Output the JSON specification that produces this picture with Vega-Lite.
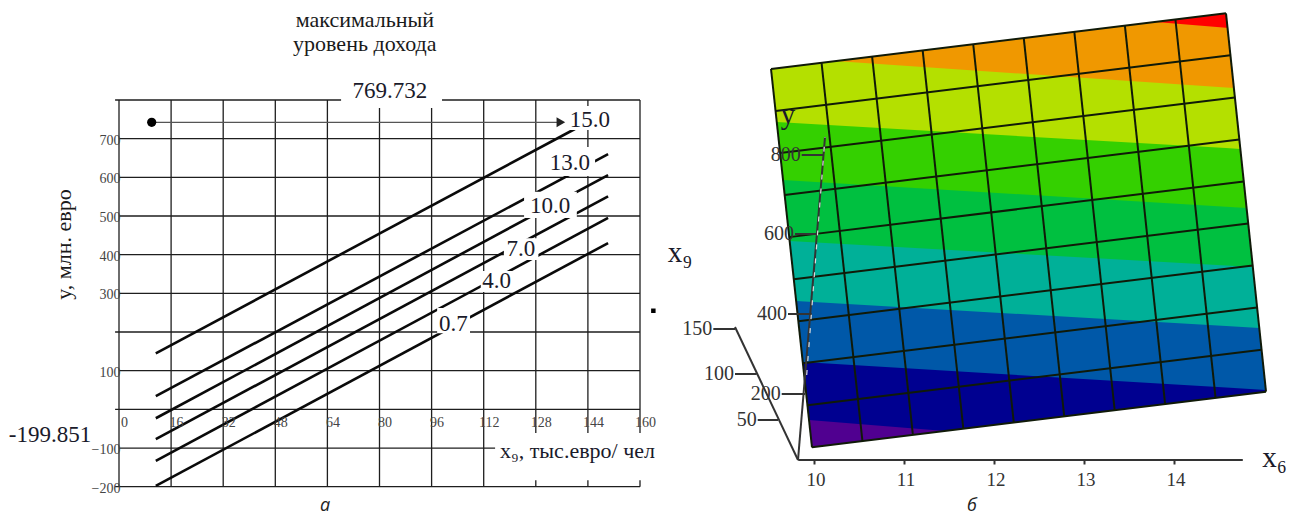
{"$schema":"https://vega.github.io/schema/vega-lite/v6.json","width":1290,"height":517,"padding":0,"autosize":{"type":"none"},"background":"white","config":{"view":{"stroke":null},"text":{"font":"Liberation Serif"}},
"datasets":{
"grid":[
{"x9":0,"x9b":0,"y":-200,"yb":800},{"x9":16,"x9b":16,"y":-200,"yb":800},{"x9":32,"x9b":32,"y":-200,"yb":800},{"x9":48,"x9b":48,"y":-200,"yb":800},{"x9":64,"x9b":64,"y":-200,"yb":800},{"x9":80,"x9b":80,"y":-200,"yb":800},{"x9":96,"x9b":96,"y":-200,"yb":800},{"x9":112,"x9b":112,"y":-200,"yb":800},{"x9":128,"x9b":128,"y":-200,"yb":800},{"x9":144,"x9b":144,"y":-200,"yb":800},{"x9":160,"x9b":160,"y":-200,"yb":800},
{"x9":-1.2,"x9b":160,"y":800,"yb":800},{"x9":0,"x9b":160,"y":700,"yb":700},{"x9":0,"x9b":160,"y":600,"yb":600},{"x9":0,"x9b":160,"y":500,"yb":500},{"x9":0,"x9b":160,"y":400,"yb":400},{"x9":0,"x9b":160,"y":300,"yb":300},{"x9":-1.2,"x9b":160,"y":200,"yb":200},{"x9":0,"x9b":160,"y":100,"yb":100},{"x9":-1.2,"x9b":160,"y":0,"yb":0},{"x9":0,"x9b":160,"y":-100,"yb":-100},{"x9":-1.2,"x9b":160,"y":-200,"yb":-200}],
"contours":[
{"level":"15.0","x9":11.3,"y":145},{"level":"15.0","x9":140,"y":725},
{"level":"13.0","x9":11.3,"y":34},{"level":"13.0","x9":150.2,"y":660},
{"level":"10.0","x9":11.3,"y":-23},{"level":"10.0","x9":150.2,"y":606},
{"level":"7.0","x9":11.3,"y":-77},{"level":"7.0","x9":150.2,"y":551},
{"level":"4.0","x9":11.3,"y":-133},{"level":"4.0","x9":150.2,"y":495},
{"level":"0.7","x9":11.3,"y":-198},{"level":"0.7","x9":150.2,"y":430}],
"gaps":[
{"x9":68.2,"x9b":99.2,"y":838.8,"yb":779.3},
{"x9":137.6,"x9b":151.7,"y":784.5,"yb":722.4},
{"x9":131.7,"x9b":146.2,"y":678.5,"yb":603.5},
{"x9":124.4,"x9b":140.6,"y":562.9,"yb":494.9},
{"x9":118.2,"x9b":128.8,"y":442.4,"yb":386.2},
{"x9":111.1,"x9b":121.1,"y":357.8,"yb":303.5},
{"x9":97.7,"x9b":107.8,"y":262.1,"yb":196.7},
{"x9":115.5,"x9b":166,"y":-61,"yb":-183}],
"levelLabels":[
{"label":"15.0","x9":144.6,"y":747},{"label":"13.0","x9":138.5,"y":637.9},{"label":"10.0","x9":132.4,"y":525.9},{"label":"7.0","x9":123.4,"y":413.9},{"label":"4.0","x9":116,"y":332.7},{"label":"0.7","x9":102.7,"y":220.7},{"label":"769.732","x9":83.2,"y":823.3},{"label":"-199.851","x9":-21.2,"y":-66}],
"headings":[{"label":"максимальный","x9":75.5,"y":1005.6},{"label":"уровень дохода","x9":75.5,"y":946.1}],
"maxArrow":[{"x9":10.04,"x9b":135.7,"y":742.3,"yb":742.3}],
"maxDot":[{"x9":10.04,"y":742.3}],
"maxHead":[{"x9":135.7,"y":742.3}],
"stray":[{"x9":164.1,"y":255}],
"panelA":[{"label":"а","x9":63.3,"y":-250}],
"surface":[
{"band":"b9","x6":9.5278,"top":1010,"bot":1010},{"band":"b9","x6":9.9833,"top":1022.5,"bot":64.25},{"band":"b9","x6":14.5833,"top":1149.25,"bot":191},{"band":"b9","x6":15.0278,"top":203.25,"bot":203.25},
{"band":"b8","x6":9.5278,"top":1010,"bot":1010},{"band":"b8","x6":9.95,"top":1021.75,"bot":132.5},{"band":"b8","x6":11.4611,"top":1063.25,"bot":105},{"band":"b8","x6":14.5833,"top":1149.25,"bot":191},{"band":"b8","x6":15.0278,"top":203.25,"bot":203.25},
{"band":"b7","x6":9.5278,"top":1010,"bot":1010},{"band":"b7","x6":9.8811,"top":1019.75,"bot":277.5},{"band":"b7","x6":14.5833,"top":1149.25,"bot":213.5},{"band":"b7","x6":15.0256,"top":207.5,"bot":207.5},
{"band":"b6","x6":9.5278,"top":1010,"bot":1010},{"band":"b6","x6":9.8067,"top":1017.75,"bot":430},{"band":"b6","x6":14.5833,"top":1149.25,"bot":367.25},{"band":"b6","x6":14.9522,"top":362.5,"bot":362.5},
{"band":"b5","x6":9.5278,"top":1010,"bot":1010},{"band":"b5","x6":9.7344,"top":1015.75,"bot":580},{"band":"b5","x6":14.5833,"top":1149.25,"bot":518.75},{"band":"b5","x6":14.8811,"top":515,"bot":515},
{"band":"b4","x6":9.5278,"top":1010,"bot":1010},{"band":"b4","x6":9.6611,"top":1013.75,"bot":732.5},{"band":"b4","x6":14.5833,"top":1149.25,"bot":665.5},{"band":"b4","x6":14.8122,"top":662.5,"bot":662.5},
{"band":"b3","x6":9.5278,"top":1010,"bot":1010},{"band":"b3","x6":9.5911,"top":1011.75,"bot":877.5},{"band":"b3","x6":14.5833,"top":1149.25,"bot":812.25},{"band":"b3","x6":14.7422,"top":810,"bot":810},
{"band":"b2","x6":10.2389,"top":1030,"bot":1030},{"band":"b2","x6":14.5833,"top":1149.25,"bot":963.75},{"band":"b2","x6":14.6711,"top":962.5,"bot":962.5},
{"band":"b1","x6":13.8056,"top":1127.5,"bot":1127.5},{"band":"b1","x6":14.5833,"top":1149.25,"bot":1113},{"band":"b1","x6":14.5989,"top":1112.5,"bot":1112.5}],
"mesh":[
{"id":"c0","x6":9.5278,"y":1010},{"id":"c0","x6":9.9833,"y":64.25},
{"id":"c1","x6":10.0895,"y":1025.47},{"id":"c1","x6":10.5438,"y":79.69},
{"id":"c2","x6":10.6512,"y":1040.94},{"id":"c2","x6":11.1043,"y":95.14},
{"id":"c3","x6":11.2129,"y":1056.42},{"id":"c3","x6":11.6648,"y":110.58},
{"id":"c4","x6":11.7746,"y":1071.89},{"id":"c4","x6":12.2253,"y":126.03},
{"id":"c5","x6":12.3363,"y":1087.36},{"id":"c5","x6":12.7858,"y":141.47},
{"id":"c6","x6":12.898,"y":1102.83},{"id":"c6","x6":13.3463,"y":156.92},
{"id":"c7","x6":13.4597,"y":1118.31},{"id":"c7","x6":13.9068,"y":172.36},
{"id":"c8","x6":14.0214,"y":1133.78},{"id":"c8","x6":14.4673,"y":187.81},
{"id":"c9","x6":14.5833,"y":1149.25},{"id":"c9","x6":15.0278,"y":203.25},
{"id":"r0","x6":9.5278,"y":1010},{"id":"r0","x6":14.5833,"y":1149.25},
{"id":"r1","x6":9.5784,"y":904.92},{"id":"r1","x6":14.6327,"y":1044.14},
{"id":"r2","x6":9.629,"y":799.83},{"id":"r2","x6":14.6821,"y":939.03},
{"id":"r3","x6":9.6796,"y":694.75},{"id":"r3","x6":14.7315,"y":833.92},
{"id":"r4","x6":9.7302,"y":589.67},{"id":"r4","x6":14.7809,"y":728.81},
{"id":"r5","x6":9.7809,"y":484.58},{"id":"r5","x6":14.8304,"y":623.69},
{"id":"r6","x6":9.8315,"y":379.5},{"id":"r6","x6":14.8798,"y":518.58},
{"id":"r7","x6":9.8821,"y":274.42},{"id":"r7","x6":14.9292,"y":413.47},
{"id":"r8","x6":9.9327,"y":169.33},{"id":"r8","x6":14.9786,"y":308.36},
{"id":"r9","x6":9.9833,"y":64.25},{"id":"r9","x6":15.0278,"y":203.25}],
"axes3d":[
{"x6":9.83,"x6b":14.77,"y":32.5,"yb":32.5},
{"x6":9.8278,"x6b":9.1278,"y":32.5,"yb":365},
{"x6":9.8278,"x6b":10.1278,"y":32.5,"yb":840}],
"axisDash":[{"x6":9.9244,"x6b":10.1278,"y":245,"yb":840}],
"ticks3d":[
{"label":"800","x6":9.8689,"x6b":10.1055,"y":795,"yb":795},
{"label":"600","x6":9.7944,"x6b":10.0356,"y":597.5,"yb":597.5},
{"label":"400","x6":9.7167,"x6b":9.98,"y":397.5,"yb":397.5},
{"label":"200","x6":9.6467,"x6b":9.9055,"y":197.5,"yb":197.5},
{"label":"150","x6":8.8867,"x6b":9.1278,"y":360,"yb":360},
{"label":"100","x6":9.1278,"x6b":9.3689,"y":247.5,"yb":247.5},
{"label":"50","x6":9.38,"x6b":9.6056,"y":132.5,"yb":132.5}],
"names3d":[{"label":"y","x6":9.7167,"y":895},{"label":"x₉","x6":8.5167,"y":550}],
"panelB":[{"label":"б","x6":11.7611,"y":-82.5}]
},
"layer":[
{"encoding":{
"x":{"field":"x9","type":"quantitative","scale":{"domain":[0,160],"range":[119,640],"nice":false,"zero":false},
"axis":{"orient":"bottom","offset":-106.7,"zindex":1,"values":[0,16,32,48,64,80,96,112,128,144,160],"domain":false,"ticks":false,"grid":false,"labelFont":"Liberation Serif","labelFontSize":14,"labelColor":"#444444","labelPadding":5,"labelBaseline":"top","labelFlush":false,"labelOverlap":false,"labelBound":false,"labelAngle":0,"labelOffset":5,
"title":"x₉, тыс.евро/ чел","titleFont":"Liberation Serif","titleFontSize":22,"titleFontWeight":"normal","titleColor":"#1a1a2a","titleX":577,"titleY":39.7,"titleBaseline":"middle","titleAnchor":"middle"}},
"y":{"field":"y","type":"quantitative","scale":{"domain":[-200,800],"range":[486.7,100],"nice":false,"zero":false},
"axis":{"orient":"left","offset":-119,"zindex":1,"values":[-200,-100,0,100,200,300,400,500,600,700,800],"labelExpr":"datum.value==0||datum.value==200||datum.value==800?'':datum.label","domain":false,"ticks":false,"grid":false,"labelFont":"Liberation Serif","labelFontSize":14,"labelColor":"#444444","labelPadding":-1,"labelBaseline":"middle","labelOffset":1.5,"labelFlush":false,"labelOverlap":false,"labelBound":false,
"title":"y, млн. евро","titleFont":"Liberation Serif","titleFontSize":22,"titleFontWeight":"normal","titleColor":"#1a1a1a","titleX":-56,"titleY":244,"titleAnchor":"middle","titleBaseline":"middle"}}},
"layer":[
{"data":{"name":"grid"},"mark":{"type":"rule","color":"#1e1e1e","strokeWidth":1.3},"encoding":{"x2":{"field":"x9b"},"y2":{"field":"yb"}}},
{"data":{"name":"contours"},"mark":{"type":"line","color":"#0a0a0a","strokeWidth":2.6},"encoding":{"detail":{"field":"level","type":"nominal"}}},
{"data":{"name":"gaps"},"mark":{"type":"rect","color":"white"},"encoding":{"x2":{"field":"x9b"},"y2":{"field":"yb"}}},
{"data":{"name":"maxArrow"},"mark":{"type":"rule","color":"#555555","strokeWidth":1.2},"encoding":{"x2":{"field":"x9b"},"y2":{"field":"yb"}}},
{"data":{"name":"maxDot"},"mark":{"type":"point","shape":"circle","filled":true,"color":"black","size":85,"opacity":1}},
{"data":{"name":"maxHead"},"mark":{"type":"point","shape":"triangle-right","filled":true,"color":"#222222","size":100,"opacity":1}},
{"data":{"name":"stray"},"mark":{"type":"point","shape":"square","filled":true,"color":"black","size":20,"opacity":1}},
{"data":{"name":"levelLabels"},"mark":{"type":"text","font":"Liberation Serif","fontSize":23,"color":"#1a1a2a","align":"center","baseline":"middle"},"encoding":{"text":{"field":"label","type":"nominal"}}},
{"data":{"name":"headings"},"mark":{"type":"text","font":"Liberation Serif","fontSize":22,"color":"#1a1a1a","align":"center","baseline":"middle"},"encoding":{"text":{"field":"label","type":"nominal"}}},
{"data":{"name":"panelA"},"mark":{"type":"text","font":"Open Sans","fontStyle":"italic","fontSize":18,"color":"#222222","align":"center","baseline":"middle"},"encoding":{"text":{"field":"label","type":"nominal"}}}
]},
{"encoding":{
"x":{"field":"x6","type":"quantitative","scale":{"domain":[8.2944,15.2944],"range":[660,1290],"nice":false,"zero":false},
"axis":{"orient":"bottom","offset":-57,"zindex":1,"values":[10,11,12,13,14],"domain":false,"ticks":true,"tickSize":4,"tickColor":"#333333","tickWidth":2,"grid":false,"labelFont":"Liberation Serif","labelFontSize":19,"labelColor":"#333333","labelPadding":6,"labelOffset":2,"labelFlush":false,"labelOverlap":false,"labelBound":false,"labelAngle":0,
"title":"x₆","titleFont":"Liberation Serif","titleFontSize":29,"titleFontWeight":"normal","titleColor":"#1a1a2a","titleX":1274,"titleY":-3,"titleBaseline":"middle","titleAnchor":"middle"}},
"y":{"field":"y","type":"quantitative","scale":{"domain":[-110,1182.5],"range":[517,0],"nice":false,"zero":false},"axis":null}},
"layer":[
{"data":{"name":"surface"},"mark":{"type":"area","opacity":1},"encoding":{"y":{"field":"top","type":"quantitative","stack":null},"y2":{"field":"bot"},"color":{"field":"band","type":"nominal","legend":null,"scale":{"domain":["b9","b8","b7","b6","b5","b4","b3","b2","b1"],"range":["#500090","#000090","#0058a8","#00b098","#00c040","#34d000","#b4e000","#f09800","#ff0000"]},"sort":null}}},
{"data":{"name":"mesh"},"mark":{"type":"line","color":"#101a08","strokeWidth":2},"encoding":{"detail":{"field":"id","type":"nominal"}}},
{"data":{"name":"axes3d"},"mark":{"type":"rule","color":"#333333","strokeWidth":2},"encoding":{"x2":{"field":"x6b"},"y2":{"field":"yb"}}},
{"data":{"name":"axisDash"},"mark":{"type":"rule","color":"#dddddd","strokeWidth":1.2,"strokeDash":[5,9]},"encoding":{"x2":{"field":"x6b"},"y2":{"field":"yb"}}},
{"data":{"name":"ticks3d"},"mark":{"type":"rule","color":"#333333","strokeWidth":2},"encoding":{"x2":{"field":"x6b"},"y2":{"field":"yb"}}},
{"data":{"name":"ticks3d"},"mark":{"type":"text","font":"Liberation Serif","fontSize":20,"color":"#333333","align":"right","baseline":"middle","dx":-1},"encoding":{"text":{"field":"label","type":"nominal"}}},
{"data":{"name":"names3d"},"mark":{"type":"text","font":"Liberation Serif","fontSize":29,"color":"#1a1a2a","align":"center","baseline":"middle"},"encoding":{"text":{"field":"label","type":"nominal"}}},
{"data":{"name":"panelB"},"mark":{"type":"text","font":"Open Sans","fontStyle":"italic","fontSize":18,"color":"#222222","align":"center","baseline":"middle"},"encoding":{"text":{"field":"label","type":"nominal"}}}
]}
],
"resolve":{"scale":{"x":"independent","y":"independent"},"axis":{"x":"independent","y":"independent"}}}
